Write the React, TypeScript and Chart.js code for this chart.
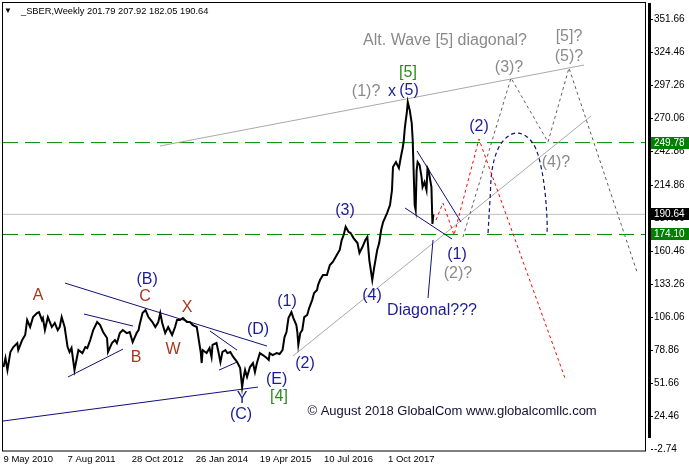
import React, { useEffect, useRef } from "react";
import { Chart, registerables } from "chart.js";

Chart.register(...registerables);

// ---- Data (x = weeks since 9 May 2010, y = price) ----
const priceWeeks = [
  0, 2, 4, 7, 10, 14, 15, 19, 22, 24, 27, 30, 34, 36, 39, 40, 42, 45, 49, 52, 55, 57, 59, 62, 65, 67, 69, 72, 74, 76, 80, 83, 85, 88, 91, 95, 98, 101, 105, 106, 110, 113, 115, 118, 121, 125, 128, 131, 135, 137,
  138, 141, 144, 147, 151, 154, 157, 159, 161, 164, 167, 171, 174, 176, 179, 182, 186, 189, 192, 196, 197, 200, 201, 202, 206, 209, 211, 212, 216, 218, 220, 222, 225, 227, 230, 233, 237, 240, 242, 243, 245, 247, 250, 253, 255, 257, 260, 263, 267, 269,
  270, 273, 277, 280, 283, 285, 287, 289, 292, 294, 297, 298, 299, 301, 303, 305, 308, 310, 313, 315, 318, 319, 321, 324, 328, 331, 334, 338, 341, 343, 345, 347, 350, 352, 355, 359, 361, 364, 367, 369, 371, 374, 376, 379, 381,
  383, 385, 389, 392, 394, 395, 398, 401, 403, 405, 406, 407, 408, 409, 410, 412, 414, 415, 417, 418, 419, 420, 422, 424, 425, 427, 429, 430, 431, 434, 435, 436,
];
const priceValues = [
  64.8, 72.2, 62.3, 77.2, 81.3, 84.6, 78.8, 87.1, 91.2, 103.5, 97.8, 106.0, 109.3, 110.1, 103.5, 105.2, 95.3, 106.0, 97.8, 101.1, 95.3, 97.8, 106.0, 97.8, 81.3, 77.2, 80.5, 62.3, 70.6, 78.8, 76.3, 81.3, 80.5, 87.1, 95.3, 101.9, 99.4, 93.7, 88.7, 77.2, 84.6, 87.1, 84.6, 92.8, 95.3, 92.8, 93.7, 85.4, 92.8, 95.3,
  99.4, 109.3, 111.8, 106.0, 101.9, 97.8, 101.9, 109.3, 101.1, 92.8, 97.8, 91.2, 97.8, 103.5, 103.5, 105.2, 101.9, 101.9, 99.4, 97.8, 92.8, 77.2, 68.1, 78.8, 76.3, 80.5, 73.1, 83.0, 84.6, 77.2, 68.9, 77.2, 78.8, 76.3, 77.2, 73.1, 68.9, 64.0, 48.3, 54.1, 62.3, 56.6, 64.8, 68.1, 60.7, 68.1, 76.3, 74.7, 72.2, 70.6,
  76.3, 74.7, 76.3, 75.5, 78.8, 89.5, 93.7, 105.2, 110.1, 105.2, 99.4, 93.7, 83.0, 92.8, 95.3, 106.0, 107.7, 113.4, 120.0, 125.8, 128.3, 132.4, 136.5, 140.6, 140.6, 148.9, 151.4, 157.1, 161.3, 169.5, 173.6, 180.5, 176.1, 175.3, 171.1, 167.0, 158.8, 163.7, 169.5, 172.0, 153.0, 136.5, 147.2, 161.3, 167.0,
  177.7, 184.3, 191.7, 198.3, 210.7, 229.7, 233.8, 228.8, 237.9, 246.1, 251.9, 261.8, 268.4, 274.2, 283.2, 276.6, 265.9, 251.9, 198.3, 194.2, 227.2, 233.8, 231.3, 221.4, 213.2, 217.3, 210.7, 228.8, 227.2, 213.2, 182.7, 190.64,
];

const headerText = "_SBER,Weekly 201.79 207.92 182.05 190.64";
const levelHigh = 249.78;
const levelLow = 174.1;
const lastClose = 190.64;

const xTickWeeks = [0, 65, 130, 195, 260, 325, 390];
const xTickLabels = ["9 May 2010", "7 Aug 2011", "28 Oct 2012", "26 Jan 2014", "19 Apr 2015", "10 Jul 2016", "1 Oct 2017"];
const yTickValues = [351.66, 324.46, 297.26, 270.06, 242.86, 214.86, 187.66, 160.46, 133.26, 106.06, 78.86, 51.66, 24.46, -2.74];
const yTickLabels = ["351.66", "324.46", "297.26", "270.06", "242.86", "214.86", "187.66", "160.46", "133.26", "106.06", "78.86", "51.66", "24.46", "-2.74"];

// Trend lines drawn by the analyst: [week, price] pairs
const navyTrendLines = [
  [[62.4, 134.0], [267.2, 82.1]],
  [[-0.5, 20.3], [258.1, 48.3]],
  [[81.6, 108.5], [131.3, 98.6]],
  [[65.4, 56.6], [121.2, 79.6]],
  [[209.4, 94.5], [236.8, 78.8]],
  [[218.6, 62.3], [236.8, 68.9]],
  [[419.4, 242.9], [464.0, 184.3]],
  [[407.2, 195.9], [454.9, 170.3]],
  [[435.6, 169.5], [430.5, 121.7]],
];
const grayTrendLines = [
  [[158.7, 247.0], [588.7, 313.7]],
  [[293.6, 73.9], [595.8, 271.7]],
];
const redPathWeeks = [438.6, 445.7, 456.9, 482.2, 569.4];
const redPathValues = [186.0, 200.0, 173.6, 252.7, 55.7];
const grayPathWeeks = [466.0, 514.7, 552.2, 573.5, 642.5];
const grayPathValues = [172.0, 303.0, 250.3, 311.3, 143.1];
const archWeeks = [491.4, 493.4, 495.5, 501.5, 510.7, 520.8, 531.0, 539.1, 545.2, 549.3, 551.3, 551.3];
const archValues = [175.3, 202.5, 227.2, 244.5, 254.4, 257.7, 254.4, 246.1, 229.7, 208.0, 185.0, 175.3];

const waveLabels = [
  { text: "A", w: 35.0, v: 123.3, tone: "brown" },
  { text: "(B)", w: 145.6, v: 136.5, tone: "navy" },
  { text: "C", w: 143.5, v: 122.5, tone: "brown" },
  { text: "X", w: 186.1, v: 113.4, tone: "brown" },
  { text: "B", w: 134.4, v: 73.0, tone: "brown" },
  { text: "W", w: 171.9, v: 78.8, tone: "brown" },
  { text: "(D)", w: 258.1, v: 95.3, tone: "navy" },
  { text: "(E)", w: 277.0, v: 54.1, tone: "navy" },
  { text: "[4]", w: 279.4, v: 40.1, tone: "green" },
  { text: "Y", w: 241.9, v: 39.2, tone: "navy" },
  { text: "(C)", w: 240.9, v: 25.3, tone: "navy" },
  { text: "(1)", w: 287.5, v: 118.4, tone: "navy" },
  { text: "(2)", w: 305.8, v: 67.3, tone: "navy" },
  { text: "(3)", w: 346.3, v: 193.4, tone: "navy" },
  { text: "(4)", w: 373.7, v: 123.3, tone: "navy" },
  { text: "(1)?", w: 367.7, v: 291.5, tone: "gray" },
  { text: "x", w: 394.0, v: 291.5, tone: "navy" },
  { text: "(5)", w: 411.2, v: 292.3, tone: "navy" },
  { text: "[5]", w: 410.2, v: 307.2, tone: "green" },
  { text: "Alt. Wave [5] diagonal?", w: 447.8, v: 333.5, tone: "gray" },
  { text: "(3)?", w: 512.7, v: 311.3, tone: "gray" },
  { text: "[5]?", w: 573.5, v: 336.8, tone: "gray" },
  { text: "(5)?", w: 573.5, v: 320.3, tone: "gray" },
  { text: "(2)", w: 482.2, v: 262.6, tone: "navy" },
  { text: "(4)?", w: 560.3, v: 233.0, tone: "gray" },
  { text: "(1)", w: 459.9, v: 157.1, tone: "navy" },
  { text: "(2)?", w: 460.9, v: 141.5, tone: "gray" },
  { text: "Diagonal???", w: 434.6, v: 111.0, tone: "navy" },
];
const copyrightText = "© August 2018 GlobalCom www.globalcomllc.com";
const copyrightAt = { w: 308.3, v: 28.5 };

const toneColors: Record<string, string> = {
  brown: "#a8381c",
  navy: "#1c1c98",
  green: "#2e8c1e",
  gray: "#8a8a8a",
};

const FONT = '"Liberation Sans", Arial, sans-serif';

const pairsToData = (ws: number[], vs: number[]) => ws.map((w, i) => ({ x: w, y: vs[i] }));

export default function App() {
  const ref = useRef<HTMLCanvasElement | null>(null);

  useEffect(() => {
    const canvas = ref.current;
    if (!canvas) return;
    const X_MIN = -0.5;
    const X_MAX = 651.6;

    const datasets: any[] = [];
    datasets.push({
      data: pairsToData(priceWeeks, priceValues),
      borderColor: "#000",
      borderWidth: 2,
      pointRadius: 0,
      order: 0,
    });
    const hLine = (v: number, color: string, dash: number[]) => ({
      data: [{ x: X_MIN, y: v }, { x: X_MAX, y: v }],
      borderColor: color,
      borderWidth: 1,
      borderDash: dash,
      pointRadius: 0,
      order: 5,
    });
    datasets.push(hLine(lastClose, "#c0c0c0", []));
    datasets.push(hLine(levelHigh, "#008000", [15, 7]));
    datasets.push(hLine(levelLow, "#008000", [15, 7]));
    navyTrendLines.forEach((seg) =>
      datasets.push({
        data: seg.map((p) => ({ x: p[0], y: p[1] })),
        borderColor: "#10107a",
        borderWidth: 1,
        pointRadius: 0,
        order: 3,
      })
    );
    grayTrendLines.forEach((seg) =>
      datasets.push({
        data: seg.map((p) => ({ x: p[0], y: p[1] })),
        borderColor: "#a8a8a8",
        borderWidth: 1,
        pointRadius: 0,
        order: 4,
      })
    );
    datasets.push({
      data: pairsToData(redPathWeeks, redPathValues),
      borderColor: "#ff0000",
      borderWidth: 1,
      borderDash: [3, 3],
      pointRadius: 0,
      order: 2,
    });
    datasets.push({
      data: pairsToData(grayPathWeeks, grayPathValues),
      borderColor: "#606060",
      borderWidth: 1,
      borderDash: [3, 3],
      pointRadius: 0,
      order: 2,
    });
    datasets.push({
      data: pairsToData(archWeeks, archValues),
      borderColor: "#10107a",
      borderWidth: 1.2,
      borderDash: [4, 3],
      pointRadius: 0,
      tension: 0.35,
      order: 2,
    });

    const overlay = {
      id: "overlay",
      afterDatasetsDraw(chart: any) {
        const { ctx, scales } = chart;
        const xs = scales.x;
        const ys = scales.y;
        ctx.save();
        ctx.textAlign = "center";
        ctx.textBaseline = "middle";
        for (const l of waveLabels) {
          ctx.font = `16px ${FONT}`;
          ctx.fillStyle = toneColors[l.tone];
          ctx.fillText(l.text, xs.getPixelForValue(l.w), ys.getPixelForValue(l.v));
        }
        ctx.font = `13px ${FONT}`;
        ctx.fillStyle = "#111133";
        ctx.textAlign = "left";
        ctx.fillText(copyrightText, xs.getPixelForValue(copyrightAt.w), ys.getPixelForValue(copyrightAt.v));
        ctx.restore();
      },
      afterDraw(chart: any) {
        const { ctx, chartArea: a, scales } = chart;
        const ys = scales.y;
        ctx.save();
        // frame
        ctx.strokeStyle = "#000";
        ctx.lineWidth = 1;
        ctx.strokeRect(a.left - 0.5, a.top - 0.5, a.right - a.left, a.bottom - a.top + 0.5);
        // thick right bar
        ctx.fillStyle = "#000";
        ctx.fillRect(a.right + 2, a.top, 3, 435);
        // y tick marks
        for (const v of yTickValues) {
          const py = Math.round(ys.getPixelForValue(v)) + 0.5;
          ctx.beginPath();
          ctx.moveTo(a.right + 5, py);
          ctx.lineTo(a.right + 7, py);
          ctx.stroke();
        }
        // value boxes
        const box = (v: number, bg: string) => {
          const py = ys.getPixelForValue(v);
          ctx.fillStyle = bg;
          ctx.fillRect(a.right + 5, Math.round(py) - 6, 689 - a.right - 5, 12);
          ctx.fillStyle = "#fff";
          ctx.font = `10px ${FONT}`;
          ctx.textAlign = "left";
          ctx.textBaseline = "middle";
          ctx.fillText(v.toFixed(2), a.right + 8, Math.round(py));
        };
        box(levelHigh, "#008000");
        box(levelLow, "#008000");
        box(lastClose, "#000");
        // header
        ctx.fillStyle = "#000";
        ctx.font = `8px ${FONT}`;
        ctx.textAlign = "left";
        ctx.textBaseline = "middle";
        ctx.fillText("▼", 4, 11);
        ctx.font = `9.3px ${FONT}`;
        ctx.fillText(headerText, 21, 11);
        ctx.restore();
      },
    };

    const chart = new Chart(canvas, {
      type: "line",
      data: { datasets },
      options: {
        animation: false,
        responsive: false,
        maintainAspectRatio: false,
        layout: { padding: { left: 3, top: 3, right: 0, bottom: 0 } },
        plugins: { legend: { display: false }, tooltip: { enabled: false } },
        scales: {
          x: {
            type: "linear",
            min: X_MIN,
            max: X_MAX,
            grid: { display: false, drawTicks: false },
            border: { display: false },
            afterBuildTicks: (s: any) => {
              s.ticks = xTickWeeks.map((v) => ({ value: v }));
            },
            afterFit: (s: any) => {
              s.height = 21;
              s.paddingLeft = 0;
              s.paddingRight = 0;
            },
            ticks: {
              align: "start",
              padding: 3,
              maxRotation: 0,
              autoSkip: false,
              color: "#000",
              font: { family: FONT, size: 9.5 },
              callback: (_v: any, i: number) => xTickLabels[i],
            },
          },
          y: {
            type: "linear",
            position: "right",
            min: -4.39,
            max: 364.85,
            grid: { display: false, drawTicks: false },
            border: { display: false },
            afterBuildTicks: (s: any) => {
              s.ticks = yTickValues.map((v) => ({ value: v }));
            },
            afterFit: (s: any) => {
              s.width = 43;
              s.paddingTop = 0;
              s.paddingBottom = 0;
            },
            ticks: {
              padding: 8,
              autoSkip: false,
              color: "#000",
              font: { family: FONT, size: 10 },
              callback: (_v: any, i: number) => yTickLabels[i],
            },
          },
        },
      } as any,
      plugins: [overlay],
    });
    return () => chart.destroy();
  }, []);

  return (
    <div style={{ position: "absolute", left: 0, top: 0, width: 689, height: 472, background: "#fff" }}>
      <canvas ref={ref} width={689} height={472} style={{ display: "block", width: 689, height: 472 }} />
    </div>
  );
}
